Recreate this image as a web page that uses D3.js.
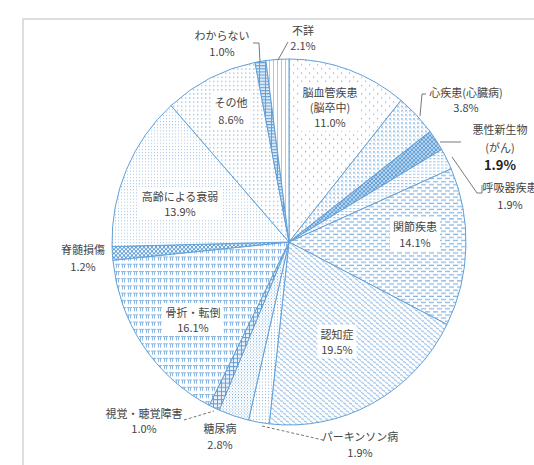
<!DOCTYPE html>
<html>
<head>
<meta charset="utf-8">
<script src="https://d3js.org/d3.v7.min.js"></script>
<style>
  body { margin: 0; background: #fff; }
  text { font-family: "Noto Sans CJK JP", sans-serif; font-size: 11px; fill: #444; }
</style>
</head>
<body>
<script>
// data, clockwise from 12 o'clock
var categories = ["脳血管疾患(脳卒中)", "心疾患(心臓病)", "悪性新生物(がん)", "呼吸器疾患", "関節疾患",
  "認知症", "パーキンソン病", "糖尿病", "視覚・聴覚障害", "骨折・転倒", "脊髄損傷",
  "高齢による衰弱", "その他", "わからない", "不詳"];
var values = [11.0, 3.8, 1.9, 1.9, 14.1, 19.5, 1.9, 2.8, 1.0, 16.1, 1.2, 13.9, 8.6, 1.0, 2.1];
var nameLines = [["脳血管疾患", "(脳卒中)"], ["心疾患(心臓病)"], ["悪性新生物", "(がん)"], ["呼吸器疾患"],
  ["関節疾患"], ["認知症"], ["パーキンソン病"], ["糖尿病"], ["視覚・聴覚障害"], ["骨折・転倒"],
  ["脊髄損傷"], ["高齢による衰弱"], ["その他"], ["わからない"], ["不詳"]];

// layout: label anchor (centre x, first line y), line gap, inside label gets white box
var labelAt = {
  0: [330, 97, 15, true], 1: [466, 97, 15], 2: [500, 134, 18], 3: [510, 192, 17],
  4: [415, 231, 16, true], 5: [337, 339, 15, true], 6: [360, 441, 16], 7: [220, 433, 16],
  8: [144, 418, 15], 9: [193, 317, 15, true], 10: [83, 254, 17], 11: [180, 201, 15, true],
  12: [231, 107, 17, true], 13: [222, 40, 16], 14: [303, 35, 15]
};
var leaders = [
  {pts: [[253, 43], [259, 43], [260, 62]]},
  {pts: [[288, 42], [278, 60]]},
  {pts: [[426, 94], [422, 94], [420, 116]]},
  {pts: [[440, 142], [461, 142]]},
  {pts: [[452, 157], [477, 193], [482, 193], [482, 185]]},
  {pts: [[184, 420], [214, 411]], dash: true},
  {pts: [[262, 426], [323, 440]], dash: true}
];

var W = 534, H = 465;
var cx = 289, cy = 242, r = 177, sy = 183 / 177;
var blue = "#62a0d8";

var svg = d3.select("body").append("svg").attr("width", W).attr("height", H);

// frame
svg.append("path").attr("d", "M23,480 L23,19 L540,19")
  .attr("fill", "none").attr("stroke", "#d4d4d4").attr("stroke-width", 1.5);

var defs = svg.append("defs");
function pat(id, w, h, bg, draw) {
  var p = defs.append("pattern").attr("id", id)
    .attr("patternUnits", "userSpaceOnUse").attr("width", w).attr("height", h);
  p.append("rect").attr("width", w).attr("height", h).attr("fill", bg);
  draw(p);
}
function dot(p, x, y, w, h, c) {
  p.append("rect").attr("x", x).attr("y", y).attr("width", w).attr("height", h).attr("fill", c);
}
pat("p0", 8, 8, "#fff", function(p) { dot(p, 0, 0, 1.2, 1.2, "#84b4e2"); dot(p, 4, 4, 1.2, 1.2, "#84b4e2"); });
pat("p1", 4, 4, "#fff", function(p) { dot(p, 0, 0, 2, 2, "#abcbeb"); dot(p, 2, 2, 1, 1, "#c6dcf2"); });
pat("p2", 4, 4, "#bcd6ef", function(p) { dot(p, 0, 0, 2, 2, blue); dot(p, 2, 2, 2, 2, blue); });
pat("p3", 4, 3, "#fff", function(p) { dot(p, 0, 0, 2.5, 1, "#9cc4e8"); });
pat("p4", 8, 6, "#fff", function(p) {
  dot(p, 0, 1, 5, 1.2, "#86b5e3"); dot(p, 4, 4, 5, 1.2, "#86b5e3"); dot(p, -4, 4, 5, 1.2, "#86b5e3");
});
pat("p5", 6, 5, "#fff", function(p) {
  p.append("path").attr("d", "M0,0.5 L3,2 M3,3 L6,4.5").attr("stroke", "#94bde5").attr("stroke-width", 1);
});
pat("p6", 3, 3, "#fff", function(p) { dot(p, 0, 0, 1, 1, "#8db8e2"); });
pat("p7", 3, 3, "#fff", function(p) { dot(p, 0, 0, 1, 1, "#76acde"); dot(p, 1.5, 1.5, 1, 1, "#b4d0ec"); });
pat("p8", 4, 4, "#e8f1fa", function(p) { dot(p, 0, 0, 4, 1, blue); dot(p, 0, 0, 1, 4, blue); });
pat("p9", 6, 7, "#fff", function(p) {
  dot(p, 0, 0, 5, 1, "#86b5e3"); dot(p, 1, 1, 1, 3, "#86b5e3"); dot(p, 3, 1, 1, 3, "#86b5e3");
});
pat("p10", 4, 4, blue, function(p) {
  p.append("circle").attr("cx", 1).attr("cy", 1).attr("r", 1.1).attr("fill", "#fff");
  p.append("circle").attr("cx", 3).attr("cy", 3).attr("r", 1.1).attr("fill", "#fff");
});
pat("p11", 3, 3, "#fff", function(p) { dot(p, 0, 0, 1, 1, "#a8c9ea"); });
pat("p12", 4, 4, "#fff", function(p) { dot(p, 0, 0, 1.4, 1.4, "#a8c9ea"); });
pat("p13", 6, 3, "#dce9f6", function(p) { dot(p, 0, 0, 6, 1, blue); dot(p, 0, 0, 1, 3, blue); });
pat("p14", 4, 4, "#fff", function(p) { dot(p, 0, 0, 1, 4, "#a8c9ea"); });

var pie = d3.pie().sort(null).value(function(d) { return d; });
var arcs = pie(values);
var arc = d3.arc().innerRadius(0).outerRadius(r);

var g = svg.append("g").attr("transform", "translate(" + cx + "," + cy + ") scale(1," + sy + ")");
g.selectAll("path.slice").data(arcs).enter().append("path")
  .attr("class", "slice")
  .attr("d", arc)
  .attr("fill", function(d, i) { return "url(#p" + i + ")"; })
  .attr("stroke", blue)
  .attr("stroke-width", 1)
  .attr("vector-effect", "non-scaling-stroke");

// leader lines
var line = d3.line();
svg.selectAll("path.leader").data(leaders).enter().append("path")
  .attr("class", "leader")
  .attr("d", function(d) { return line(d.pts); })
  .attr("fill", "none")
  .attr("stroke", "#555")
  .attr("stroke-width", 0.8)
  .attr("stroke-dasharray", function(d) { return d.dash ? "3,2" : null; });

// labels
values.forEach(function(v, i) {
  var a = labelAt[i];
  var lines = nameLines[i].concat([v.toFixed(1) + "%"]);
  var lg = svg.append("g");
  var bg = lg.append("rect").attr("fill", "#fff");
  var t = lg.append("text").attr("text-anchor", "middle");
  lines.forEach(function(s, k) {
    var ts = t.append("tspan").attr("x", a[0]).attr("y", a[1] + k * a[2]).text(s);
    if (i === 2 && k === lines.length - 1) ts.style("font-weight", "bold").style("font-size", "13px").style("fill", "#222");
  });
  if (a[3]) {
    var b = t.node().getBBox();
    bg.attr("x", b.x - 3).attr("y", b.y - 1).attr("width", b.width + 6).attr("height", b.height + 2);
  } else {
    bg.remove();
  }
});
</script>
</body>
</html>
